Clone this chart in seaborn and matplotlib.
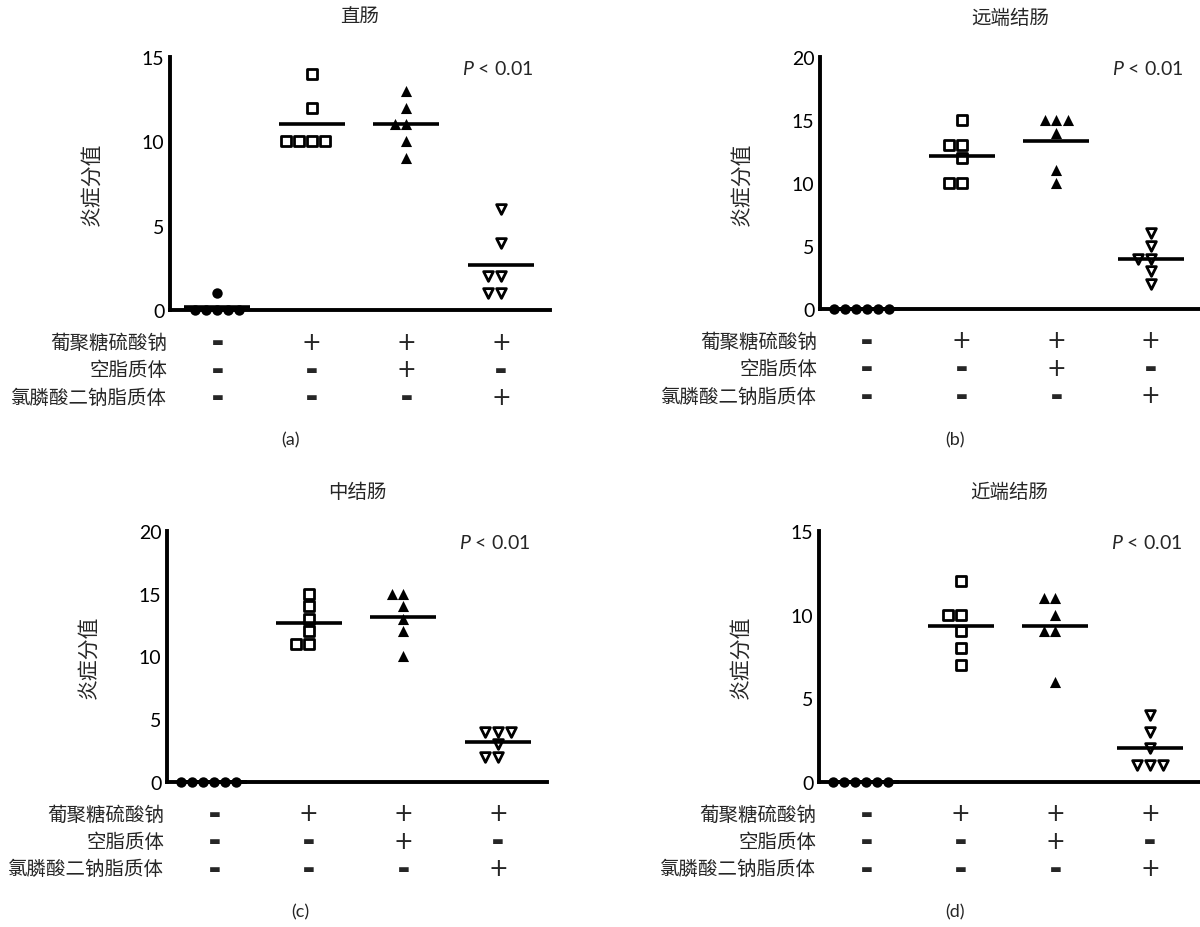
import matplotlib
matplotlib.use('Agg')
import matplotlib.pyplot as plt
import pandas as pd
import seaborn as sns

# Grupos (ordem no eixo x)
grupos = ['ctrl', 'dss', 'dss_vazio', 'dss_clod']

# Valores (6 animais por grupo)
reto = [[1, 0, 0, 0, 0, 0], [14, 12, 10, 10, 10, 10], [13, 12, 11, 11, 10, 9], [6, 4, 2, 2, 1, 1]]
distal = [[0, 0, 0, 0, 0, 0], [15, 13, 13, 12, 10, 10], [15, 15, 15, 14, 11, 10], [6, 5, 4, 4, 3, 2]]
medio = [[0, 0, 0, 0, 0, 0], [15, 14, 13, 12, 11, 11], [15, 15, 14, 13, 12, 10], [4, 4, 4, 3, 2, 2]]
proximal = [[0, 0, 0, 0, 0, 0], [12, 10, 10, 9, 8, 7], [11, 11, 10, 9, 9, 6], [4, 3, 2, 1, 1, 1]]

titulos = ['直肠', '远端结肠', '中结肠', '近端结肠']
letras = ['(a)', '(b)', '(c)', '(d)']
ymax = [15, 20, 20, 15]

linhas_tabela = ['葡聚糖硫酸钠', '空脂质体', '氯膦酸二钠脂质体']
sinais = [['-', '+', '+', '+'],
          ['-', '-', '+', '-'],
          ['-', '-', '-', '+']]

sns.set_theme(style='white')
plt.rcParams['font.family'] = ['Lato', 'Noto Sans CJK SC', 'DejaVu Sans']
plt.rcParams['mathtext.fontset'] = 'custom'
plt.rcParams['mathtext.it'] = 'Lato:italic'
plt.rcParams['mathtext.rm'] = 'Lato'

fig = plt.figure(figsize=(12, 9.28), dpi=100)
posicoes = [[0.1417, 0.6649, 0.3167, 0.2726],
            [0.6833, 0.6660, 0.3167, 0.2715],
            [0.1392, 0.1563, 0.3167, 0.2705],
            [0.6825, 0.1563, 0.3167, 0.2705]]
pos_letras = [(0.242, 0.525), (0.796, 0.525), (0.25, 0.017), (0.796, 0.017)]

estilos = [dict(marker='o', color='black', edgecolor='black', linewidth=0, size=7.5),
           dict(marker='s', color='white', edgecolor='black', linewidth=2, size=7),
           dict(marker='^', color='black', edgecolor='black', linewidth=0, size=8),
           dict(marker='v', color='white', edgecolor='black', linewidth=2, size=7)]

for k, dados in enumerate([reto, distal, medio, proximal]):
    ax = fig.add_axes(posicoes[k])
    df = pd.DataFrame([(g, v) for g, vals in zip(grupos, dados) for v in vals],
                      columns=['grupo', 'score'])
    for g, est in zip(grupos, estilos):
        sns.swarmplot(data=df[df['grupo'] == g], x='grupo', y='score', order=grupos,
                      ax=ax, zorder=3, **est)
    for c in ax.collections:
        c.set_clip_on(False)

    # linha da média de cada grupo
    medias = df.groupby('grupo')['score'].mean().reindex(grupos)
    for i, m in enumerate(medias):
        ax.hlines(m, i - 0.35, i + 0.35, color='black', lw=2.6, zorder=4, clip_on=False)

    ax.set_xlim(-0.5, 3.52)
    ax.set_ylim(0, ymax[k])
    ax.set_yticks(range(0, ymax[k] + 1, 5))
    ax.set_xticks(range(4))
    ax.set_xticklabels([])
    ax.set_xlabel('')
    ax.set_ylabel('炎症分值', fontsize=15)
    ax.yaxis.set_label_coords(-0.18, 0.5)
    sns.despine(ax=ax)
    for s in ['left', 'bottom']:
        ax.spines[s].set_linewidth(2.8)
        ax.spines[s].set_color('black')
    ax.tick_params(axis='both', direction='out', length=3, width=2, colors='black',
                   labelsize=14, pad=1)
    ax.tick_params(axis='x', length=4)

    ax.text(0.5, 1.16, titulos[k], transform=ax.transAxes, ha='center', va='center',
            fontsize=14)
    ax.text(0.955, 0.955, r'$\mathit{P}$ < 0.01', transform=ax.transAxes,
            ha='right', va='center', fontsize=14)

    # tabela de tratamentos abaixo do eixo x
    tr = ax.get_xaxis_transform()
    for r, (rot, sn) in enumerate(zip(linhas_tabela, sinais)):
        y = -0.125 - r * 0.109
        ax.text(-0.53, y, rot, transform=tr, ha='right', va='center', fontsize=14)
        for i, s in enumerate(sn):
            if s == '-':
                ax.text(i, y, '▬', transform=tr, ha='center', va='center', fontsize=9,
                        family='DejaVu Sans')
            else:
                ax.text(i, y, s, transform=tr, ha='center', va='center', fontsize=17,
                        family='DejaVu Sans')

    fig.text(pos_letras[k][0], pos_letras[k][1], letras[k], ha='center', va='center',
             fontsize=13)

fig.savefig('out.png', dpi=100)
